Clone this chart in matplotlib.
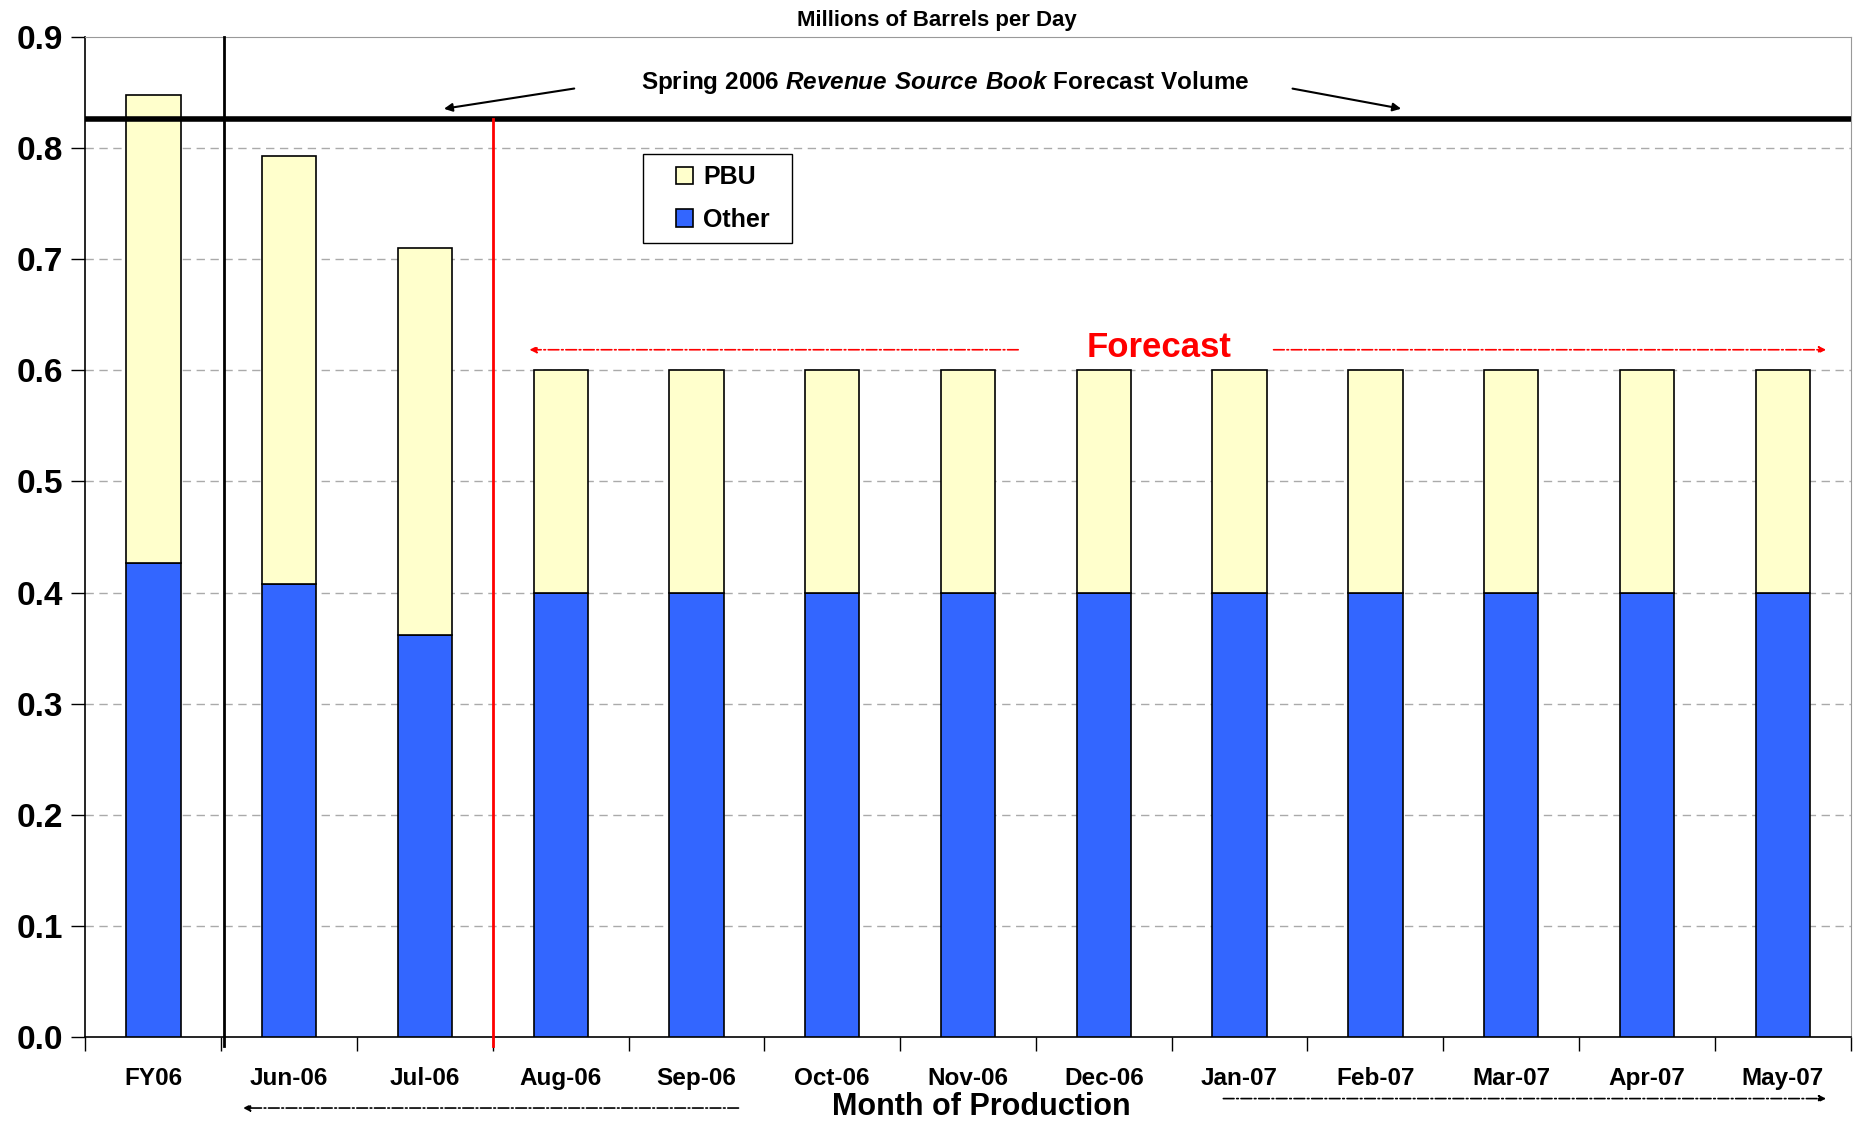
import numpy as np
from matplotlib import pyplot as plt
from matplotlib.patches import Rectangle

months = ["FY06", "Jun-06", "Jul-06", "Aug-06", "Sep-06", "Oct-06", "Nov-06",
          "Dec-06", "Jan-07", "Feb-07", "Mar-07", "Apr-07", "May-07"]
other = [0.427, 0.408, 0.362, 0.4, 0.4, 0.4, 0.4, 0.4, 0.4, 0.4, 0.4, 0.4, 0.4]
pbu = [0.421, 0.385, 0.348, 0.2, 0.2, 0.2, 0.2, 0.2, 0.2, 0.2, 0.2, 0.2, 0.2]
rsb_forecast = 0.826
yticks = [0.0, 0.1, 0.2, 0.3, 0.4, 0.5, 0.6, 0.7, 0.8, 0.9]

plt.rcParams['font.family'] = ['Liberation Sans', 'DejaVu Sans']
plt.rcParams['font.weight'] = 'bold'
plt.rcParams['mathtext.fontset'] = 'custom'
plt.rcParams['mathtext.bfit'] = 'Liberation Sans:italic:bold'
plt.rcParams['mathtext.rm'] = 'Liberation Sans:bold'

fig = plt.figure(figsize=(18.58, 11.21), dpi=100)
ax = fig.add_axes([0.046, 0.075, 0.95, 0.892])

x = np.arange(len(months))
ax.bar(x, other, width=0.4, color="#3366FF", edgecolor="black", linewidth=1.2, label="Other", zorder=3)
ax.bar(x, pbu, bottom=other, width=0.4, color="#FFFFCC", edgecolor="black", linewidth=1.2, label="PBU", zorder=3)

ax.set_xlim(-0.5, len(months) - 0.5)
ax.set_ylim(0, 0.9)
ax.set_yticks(yticks)
ax.set_yticklabels(["%.1f" % v for v in yticks], fontsize=24, fontweight="bold")
for v in yticks[1:-1]:
    ax.axhline(v, color="#AAAAAA", linestyle=(0, (6, 4)), linewidth=1, zorder=1)

ax.set_xticks(x)
ax.set_xticklabels(months, fontsize=17.5, fontweight="bold")
ax.tick_params(axis="x", which="major", length=0, pad=22)
ax.set_xticks(np.arange(-0.5, len(months)), minor=True)
ax.tick_params(axis="x", which="minor", length=10, width=1, direction="out")
ax.tick_params(axis="y", length=10, width=1, direction="out", pad=6)

for s in ["top", "right"]:
    ax.spines[s].set_color("#999999")
ax.spines["left"].set_linewidth(1.2)
ax.spines["bottom"].set_linewidth(1.2)

# forecast reference line and separators
ax.axhline(rsb_forecast, color="black", linewidth=4, zorder=4)
ax.plot([0.52, 0.52], [-0.008, 0.9], color="black", linewidth=2, clip_on=False, zorder=4)
ax.plot([2.5, 2.5], [-0.008, rsb_forecast], color="red", linewidth=2, clip_on=False, zorder=4)

ax.text(5.77, 0.915, "Millions of Barrels per Day", ha="center", va="center", fontsize=16, fontweight="bold")
ax.text(5.83, 0.859, r"Spring 2006 $\mathbfit{Revenue\ Source\ Book}$ Forecast Volume",
        ha="center", va="center", fontsize=17.5, fontweight="bold")
arr = dict(arrowstyle="-|>", color="black", lw=1.5, mutation_scale=12)
ax.annotate("", xy=(2.12, 0.835), xytext=(3.12, 0.854), arrowprops=arr)
ax.annotate("", xy=(9.21, 0.835), xytext=(8.37, 0.854), arrowprops=arr)

ax.text(7.41, 0.6206, "Forecast", color="red", ha="center", va="center", fontsize=25, fontweight="bold")
red_arr = dict(arrowstyle="-|>", color="red", lw=1.2, linestyle="-.", mutation_scale=10)
ax.annotate("", xy=(2.75, 0.6185), xytext=(6.39, 0.6185), arrowprops=red_arr)
ax.annotate("", xy=(12.34, 0.6185), xytext=(8.23, 0.6185), arrowprops=red_arr)

blk_arr = dict(arrowstyle="-|>", color="black", lw=1.2, linestyle="-.", mutation_scale=10)
ax.annotate("", xy=(0.64, -0.064), xytext=(4.33, -0.064), arrowprops=blk_arr, annotation_clip=False)
ax.annotate("", xy=(12.34, -0.0555), xytext=(7.86, -0.0555), arrowprops=blk_arr, annotation_clip=False)
ax.text(6.1, -0.063, "Month of Production", ha="center", va="center", fontsize=22, fontweight="bold")

# legend box drawn separately so its padding matches the original
ax.add_patch(Rectangle((0.316, 0.794), 0.084, 0.089, transform=ax.transAxes, facecolor="white",
                       edgecolor="black", linewidth=1, zorder=5))
h, l = ax.get_legend_handles_labels()
leg = ax.legend(h[::-1], l[::-1], loc="center", bbox_to_anchor=(0.361, 0.8385),
                prop={"weight": "bold", "size": 18}, frameon=False,
                handlelength=0.7, handleheight=0.7, handletextpad=0.4,
                labelspacing=0.75, borderpad=0, borderaxespad=0)
leg.set_zorder(6)

fig.savefig("out.png", dpi=100)
